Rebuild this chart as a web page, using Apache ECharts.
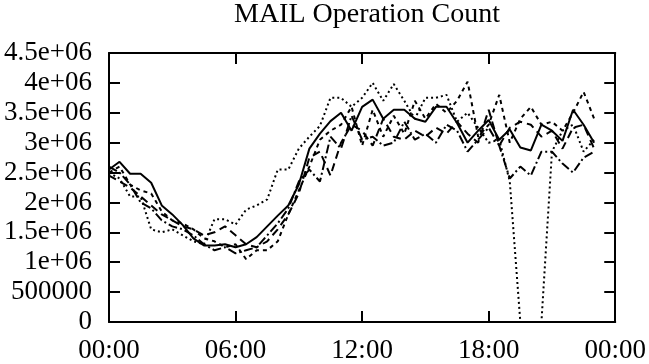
<!DOCTYPE html>
<html>
<head>
<meta charset="utf-8">
<script src="https://cdn.jsdelivr.net/npm/echarts@6/dist/echarts.min.js"></script>
<style>html,body{margin:0;padding:0;background:#fff;}#c{width:649px;height:364px;}</style>
</head>
<body>
<div id="c"></div>
<script>
const titleText = 'MAIL Operation Count';
const times = ['00:00','00:30','01:00','01:30','02:00','02:30','03:00','03:30','04:00','04:30','05:00','05:30',
  '06:00','06:30','07:00','07:30','08:00','08:30','09:00','09:30','10:00','10:30','11:00','11:30',
  '12:00','12:30','13:00','13:30','14:00','14:30','15:00','15:30','16:00','16:30','17:00','17:30',
  '18:00','18:30','19:00','19:30','20:00','20:30','21:00','21:30','22:00','22:30','23:00','23:30','24:00'];
const xTickLabels = {'00:00':'00:00','06:00':'06:00','12:00':'12:00','18:00':'18:00','24:00':'00:00'};
const yTickLabels = ['0','500000','1e+06','1.5e+06','2e+06','2.5e+06','3e+06','3.5e+06','4e+06','4.5e+06'];

const solid = [2.55e6,2.68e6,2.48e6,2.48e6,2.33e6,1.95e6,1.8e6,1.62e6,1.4e6,1.28e6,1.28e6,1.3e6,
  1.25e6,1.3e6,1.42e6,1.6e6,1.78e6,1.95e6,2.3e6,2.9e6,3.15e6,3.36e6,3.5e6,3.2e6,
  3.6e6,3.72e6,3.4e6,3.55e6,3.55e6,3.4e6,3.35e6,3.6e6,3.6e6,3.33e6,3.0e6,3.2e6,
  3.38e6,3.05e6,3.22e6,2.92e6,2.87e6,3.3e6,3.2e6,3.03e6,3.55e6,3.3e6,3.0e6];
const longDash = [2.45e6,2.35e6,2.25e6,2.1e6,1.95e6,1.8e6,1.7e6,1.6e6,1.55e6,1.45e6,1.5e6,1.6e6,
  1.45e6,1.3e6,1.25e6,1.35e6,1.55e6,1.8e6,2.15e6,2.75e6,2.85e6,2.45e6,3.0e6,3.3e6,
  3.2e6,2.95e6,3.4e6,3.1e6,3.05e6,3.2e6,3.1e6,3.25e6,3.15e6,3.35e6,3.15e6,3.0e6,
  3.55e6,2.95e6,3.25e6,3.35e6,3.3e6,3.1e6,3.2e6,2.9e6,3.25e6,3.3e6,2.9e6];
const shortDash = [2.5e6,2.6e6,2.3e6,2.2e6,2.15e6,1.85e6,1.7e6,1.65e6,1.55e6,1.4e6,1.35e6,1.25e6,
  1.3e6,1.05e6,1.2e6,1.2e6,1.35e6,1.8e6,2.2e6,2.6e6,3.05e6,3.2e6,3.3e6,3.6e6,
  2.95e6,3.55e6,3.1e6,3.45e6,3.15e6,3.7e6,3.4e6,3.65e6,3.5e6,3.7e6,4.02e6,3.1e6,
  3.3e6,3.8e6,3.0e6,3.4e6,3.6e6,3.3e6,3.35e6,3.2e6,3.5e6,3.85e6,3.4e6];
const dotted = [2.5e6,2.4e6,2.1e6,2.1e6,1.55e6,1.5e6,1.55e6,1.45e6,1.35e6,1.3e6,1.72e6,1.72e6,
  1.63e6,1.88e6,1.95e6,2.05e6,2.55e6,2.55e6,2.9e6,3.1e6,3.28e6,3.75e6,3.75e6,3.6e6,
  3.75e6,4.0e6,3.7e6,3.98e6,3.7e6,3.4e6,3.75e6,3.75e6,3.8e6,3.35e6,3.5e6,3.25e6,
  3.0e6,3.05e6,2.35e6,0,0,0,2.85e6,3.2e6,3.3e6,2.85e6,3.05e6];
const dashDot = [2.6e6,2.5e6,2.3e6,2.0e6,1.9e6,1.7e6,1.6e6,1.55e6,1.45e6,1.3e6,1.2e6,1.25e6,
  1.15e6,1.2e6,1.25e6,1.45e6,1.65e6,1.9e6,2.35e6,2.55e6,2.35e6,3.1e6,2.9e6,3.45e6,
  3.05e6,3.1e6,2.95e6,3.0e6,3.35e6,3.05e6,3.15e6,3.0e6,3.3e6,3.2e6,2.85e6,3.05e6,
  3.25e6,2.95e6,2.4e6,2.6e6,2.45e6,2.85e6,2.85e6,2.65e6,2.5e6,2.75e6,2.85e6];

const seriesDefs = [
  {name:'s1', data:solid, type:'solid'},
  {name:'s2', data:longDash, type:[8,5]},
  {name:'s3', data:shortDash, type:[4,4]},
  {name:'s4', data:dotted, type:[2,3]},
  {name:'s5', data:dashDot, type:[9,3,2,3]}
];

const FONT = 'Liberation Serif';
const FS = 27;
const axisLineStyle = {color:'#000', width:2};
const tickStyle = {color:'#000', width:2};

const chart = echarts.init(document.getElementById('c'), null, {renderer:'canvas'});
const xBase = {
  type:'category', data:times, boundaryGap:false,
  axisLine:{show:true, onZero:false, lineStyle:axisLineStyle},
  axisTick:{show:true, inside:true, length:11, lineStyle:tickStyle, interval:(i,v)=>v in xTickLabels},
  splitLine:{show:false}
};
const yBase = {
  type:'value', min:0, max:4.5e6, interval:500000,
  axisLine:{show:true, lineStyle:axisLineStyle},
  axisTick:{show:true, inside:true, length:11, lineStyle:tickStyle},
  splitLine:{show:false}
};
chart.setOption({
  animation:false,
  backgroundColor:'#fff',
  title:{text:titleText, left:229, top:-4, textStyle:{fontFamily:FONT, fontSize:28, fontWeight:'normal', color:'#000'}},
  grid:{left:109, right:32, top:53, bottom:39, containLabel:false},
  xAxis:[
    Object.assign({}, xBase, {position:'bottom',
      axisLabel:{show:true, interval:(i,v)=>v in xTickLabels, formatter:v=>xTickLabels[v]||'', margin:15,
        fontFamily:FONT, fontSize:FS, color:'#000'}}),
    Object.assign({}, xBase, {position:'top', axisLabel:{show:false}})
  ],
  yAxis:[
    Object.assign({}, yBase, {position:'left',
      axisLabel:{show:true, margin:17, fontFamily:FONT, fontSize:FS, color:'#000',
        formatter:v=>yTickLabels[Math.round(v/500000)]}}),
    Object.assign({}, yBase, {position:'right', axisLabel:{show:false}})
  ],
  series: seriesDefs.map(s=>({
    name:s.name, type:'line', data:s.data, xAxisIndex:0, yAxisIndex:0,
    symbol:'none', smooth:false, clip:true,
    lineStyle:{color:'#000', width:2, type:s.type}
  }))
});
</script>
</body>
</html>
